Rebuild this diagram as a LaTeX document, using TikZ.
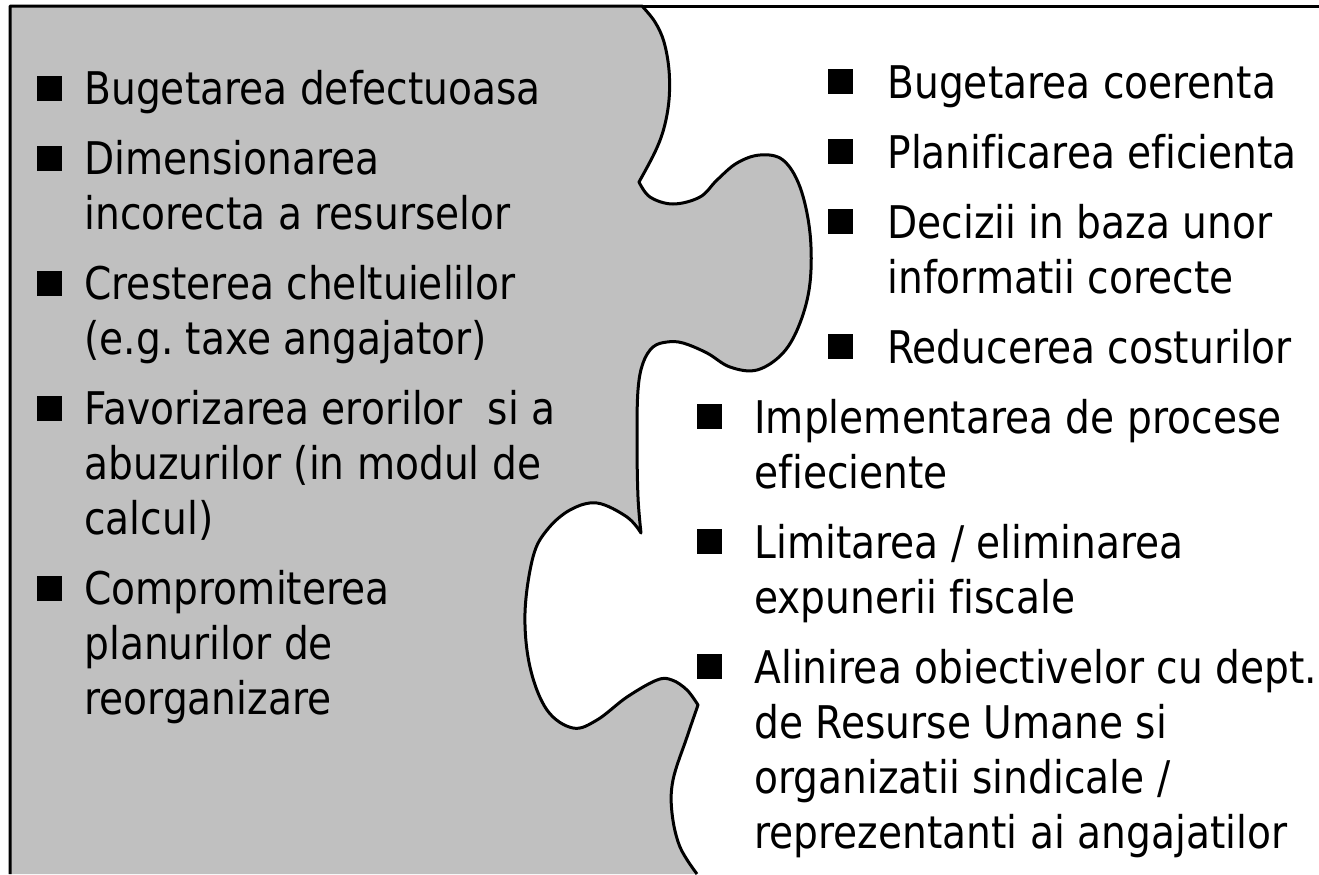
\documentclass[tikz,border=0pt]{standalone}
\usepackage{fontspec}
\setmainfont{DejaVu Sans}[FakeStretch=0.87,Ligatures=NoCommon]
\frenchspacing
\definecolor{piecegray}{HTML}{C0C0C0}
\begin{document}
\begin{tikzpicture}[x=0.5pt,y=-0.5pt,
  txt/.style={anchor=base west,inner sep=0pt,font=\fontsize{22.5pt}{27.5pt}\selectfont},
  bul/.style={anchor=south west,fill=black,inner sep=0pt,minimum size=12.5pt},
  outline/.style={line width=1.5pt,line join=round}]
\useasboundingbox (0,0) rectangle (1319,874);
\def\boundary{
  -- plot[smooth,tension=0.6] coordinates {(642,6) (655,22) (664,42) (669,70) (669,100) (664,128) (655,152) (639,182)}
  -- plot[smooth,tension=0.6] coordinates {(639,182) (650,197) (673,204) (700,197) (717,180) (737,163) (760,155) (783,160) (800,187) (810,233) (810,283) (800,323) (783,353) (757,370) (730,367) (707,353) (683,343) (667,342) (653,347) (643,363) (638,390) (637,440) (638,497) (641,533)}
  -- plot[smooth,tension=0.6] coordinates {(641,533) (627,517) (597,503) (570,510) (547,530) (533,557) (525,613) (530,667) (547,710) (573,728) (597,720) (627,697) (657,680) (672,680) (687,690) (698,705)}
  -- plot[smooth,tension=0.6] coordinates {(698,705) (687,737) (673,780) (672,813) (680,847) (697,874)}
}
\fill[piecegray] (10,874) -- (10,6) -- (642,6) \boundary -- cycle;
\draw[outline] (10,874) -- (10,6) -- (642,6) \boundary;
\draw[outline] (642,6) -- (1319,6);
% left column
\node[bul] (bl1) at (37,101) {};
\node[txt] (l1) at (84,104) {Bugetarea defectuoasa};
\node[bul] (bl2) at (37,171) {};
\node[txt] (l2a) at (84,174) {Dimensionarea};
\node[txt] (l2b) at (84,229) {incorecta a resurselor};
\node[bul] (bl3) at (37,296) {};
\node[txt] (l3a) at (84,299) {Cresterea cheltuielilor};
\node[txt] (l3b) at (84,354) {(e.g. taxe angajator)};
\node[bul] (bl4) at (37,421) {};
\node[txt] (l4a) at (84,424) {Favorizarea erorilor~ si a};
\node[txt] (l4b) at (84,479) {abuzurilor (in modul de};
\node[txt] (l4c) at (84,534) {calcul)};
\node[bul] (bl5) at (37,601) {};
\node[txt] (l5a) at (84,604) {Compromiterea};
\node[txt] (l5b) at (84,659) {planurilor de};
\node[txt] (l5c) at (84,714) {reorganizare};
% right upper
\node[bul] (br1) at (828,94) {};
\node[txt] (r1) at (887,98) {Bugetarea coerenta};
\node[bul] (br2) at (828,164) {};
\node[txt] (r2) at (887,168) {Planificarea eficienta};
\node[bul] (br3) at (828,234) {};
\node[txt] (r3a) at (887,238) {Decizii in baza unor};
\node[txt] (r3b) at (887,293) {informatii corecte};
\node[bul] (br4) at (828,359) {};
\node[txt] (r4) at (887,363) {Reducerea costurilor};
% right lower
\node[bul] (br5) at (697,429) {};
\node[txt] (r5a) at (754,433) {Implementarea de procese};
\node[txt] (r5b) at (754,488) {efieciente};
\node[bul] (br6) at (697,554) {};
\node[txt] (r6a) at (754,558) {Limitarea / eliminarea};
\node[txt] (r6b) at (754,613) {expunerii fiscale};
\node[bul] (br7) at (697,679) {};
\node[txt] (r7a) at (754,683) {Alinirea obiectivelor cu dept.};
\node[txt] (r7b) at (754,738) {de Resurse Umane si};
\node[txt] (r7c) at (754,793) {organizatii sindicale /};
\node[txt] (r7d) at (754,848) {reprezentanti ai angajatilor};
\end{tikzpicture}
\end{document}
